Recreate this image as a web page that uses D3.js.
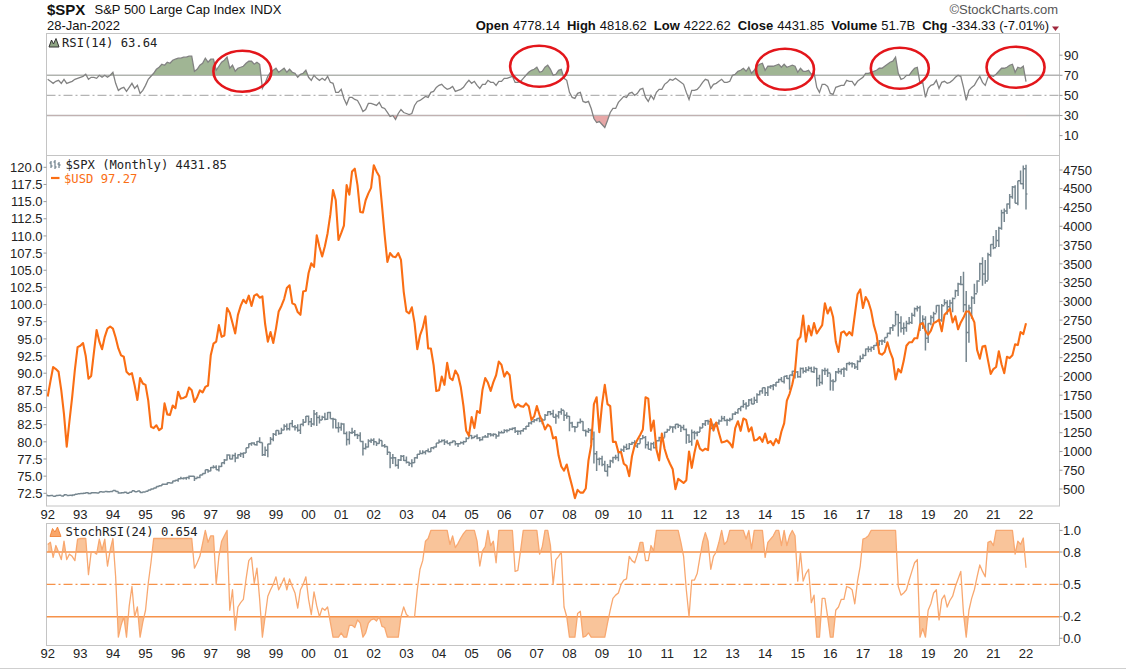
<!DOCTYPE html>
<html><head><meta charset="utf-8">
<script src="https://cdn.jsdelivr.net/npm/d3@7"></script>
<style>
body{margin:0;background:#fff}
svg{display:block}
text{font-family:"Liberation Sans",Arial,sans-serif;fill:#111}
.mono{font-family:"DejaVu Sans Mono",monospace;font-size:12.2px}
</style>
</head><body>
<svg id="c" width="1126" height="672"></svg>
<script>
// ---------------- DATA ----------------
const yearLabels = ["92","93","94","95","96","97","98","99","00","01","02","03","04","05","06","07","08","09","10","11","12","13","14","15","16","17","18","19","20","21","22"];
const spxPrevClose = 417.09; // Dec-1991 close, open of the first bar
const spxClose = [
408.79,412.70,403.69,414.95,415.35,408.14,424.21,414.03,417.80,418.68,431.35,435.71,
438.78,443.38,451.67,440.19,450.19,450.53,448.13,463.56,458.93,467.83,461.79,466.45,
481.61,467.14,445.77,450.91,456.50,444.27,458.26,475.49,462.69,472.35,453.69,459.27,
470.42,487.39,500.71,514.71,533.40,544.75,562.06,561.88,584.41,581.50,605.37,615.93,
636.02,640.43,645.50,654.17,669.12,670.63,639.95,651.99,687.31,705.27,757.02,740.74,
786.16,790.82,757.12,801.34,848.28,885.14,954.29,899.47,947.28,914.62,955.40,970.43,
980.28,1049.34,1101.75,1111.75,1090.82,1133.84,1120.67,957.28,1017.01,1098.67,1163.63,1229.23,
1279.64,1238.33,1286.37,1335.18,1301.84,1372.71,1328.72,1320.41,1282.71,1362.93,1388.91,1469.25,
1394.46,1366.42,1498.58,1452.43,1420.60,1454.60,1430.83,1517.68,1436.51,1429.40,1314.95,1320.28,
1366.01,1239.94,1160.33,1249.46,1255.82,1224.42,1211.23,1133.58,1040.94,1059.78,1139.45,1148.08,
1130.20,1106.73,1147.39,1076.92,1067.14,989.82,911.62,916.07,815.28,885.76,936.31,879.82,
855.70,841.15,848.18,916.92,963.59,974.50,990.31,1008.01,995.97,1050.71,1058.20,1111.92,
1131.13,1144.94,1126.21,1107.30,1120.68,1140.84,1101.72,1104.24,1114.58,1130.20,1173.82,1211.92,
1181.27,1203.60,1180.59,1156.85,1191.50,1191.33,1234.18,1220.33,1228.81,1207.01,1249.48,1248.29,
1280.08,1280.66,1294.87,1310.61,1270.09,1270.20,1276.66,1303.82,1335.85,1377.94,1400.63,1418.30,
1438.24,1406.82,1420.86,1482.37,1530.62,1503.35,1455.27,1473.99,1526.75,1549.38,1481.14,1468.36,
1378.55,1330.63,1322.70,1385.59,1400.38,1280.00,1267.38,1282.83,1166.36,968.75,896.24,903.25,
825.88,735.09,797.87,872.81,919.14,919.32,987.48,1020.62,1057.08,1036.19,1095.63,1115.10,
1073.87,1104.49,1169.43,1186.69,1089.41,1030.71,1101.60,1049.33,1141.20,1183.26,1180.55,1257.64,
1286.12,1327.22,1325.83,1363.61,1345.20,1320.64,1292.28,1218.89,1131.42,1253.30,1246.96,1257.60,
1312.41,1365.68,1408.47,1397.91,1310.33,1362.16,1379.32,1406.58,1440.67,1412.16,1416.18,1426.19,
1498.11,1514.68,1569.19,1597.57,1630.74,1606.28,1685.73,1632.97,1681.55,1756.54,1805.81,1848.36,
1782.59,1859.45,1872.34,1883.95,1923.57,1960.23,1930.67,2003.37,1972.29,2018.05,2067.56,2058.90,
1994.99,2104.50,2067.89,2085.51,2107.39,2063.11,2103.84,1972.18,1920.03,2079.36,2080.41,2043.94,
1940.24,1932.23,2059.74,2065.30,2096.95,2098.86,2173.60,2170.95,2168.27,2126.15,2198.81,2238.83,
2278.87,2363.64,2362.72,2384.20,2411.80,2423.41,2470.30,2471.65,2519.36,2575.26,2647.58,2673.61,
2823.81,2713.83,2640.87,2648.05,2705.27,2718.37,2816.29,2901.52,2913.98,2711.74,2760.17,2506.85,
2704.10,2784.49,2834.40,2945.83,2752.06,2941.76,2980.38,2926.46,2976.74,3037.56,3140.98,3230.78,
3225.52,2954.22,2584.59,2912.43,3044.31,3100.29,3271.12,3500.31,3363.00,3269.96,3621.63,3756.07,
3714.24,3811.15,3972.89,4181.17,4204.11,4297.50,4395.26,4522.68,4307.54,4605.38,4567.00,4766.18,
4431.85];
const spxHigh = [
420.8,413.9,413.3,416.3,420.3,416.2,425.1,425.1,422.4,419.0,432.2,441.3,
442.5,449.6,456.3,452.0,455.6,453.9,451.8,464.4,463.6,470.9,468.6,471.0,
482.9,482.0,468.0,453.2,458.1,462.1,459.3,477.0,476.0,473.8,474.6,466.3,
471.4,488.6,505.4,515.2,535.0,551.1,563.8,565.0,586.0,587.3,608.6,622.9,
638.5,664.2,656.9,659.2,678.4,673.3,672.7,667.0,690.9,708.6,758.0,762.1,
794.7,817.7,816.3,812.9,851.9,898.7,961.6,960.3,960.5,983.1,964.6,986.3,
988.0,1050.0,1106.0,1124.0,1121.9,1138.5,1190.6,1121.0,1066.1,1103.8,1192.9,1244.9,
1283.2,1282.3,1316.5,1362.8,1373.2,1376.5,1420.3,1352.7,1361.6,1367.1,1431.7,1473.0,
1478.0,1444.6,1552.9,1527.2,1481.5,1474.6,1517.3,1525.2,1530.1,1448.7,1432.2,1389.1,
1383.4,1376.4,1267.4,1269.3,1315.9,1286.6,1236.8,1255.8,1143.6,1110.6,1163.4,1173.6,
1176.6,1130.2,1173.0,1147.8,1099.3,1070.4,993.6,965.0,925.0,901.1,954.3,954.3,
934.0,864.6,895.9,924.2,965.4,1015.3,1015.4,1011.0,1040.0,1054.0,1063.7,1112.6,
1158.0,1158.9,1163.2,1150.6,1127.7,1146.3,1140.8,1109.7,1131.5,1142.1,1188.5,1217.3,
1217.9,1212.2,1229.1,1191.9,1199.6,1219.6,1245.2,1245.9,1243.1,1233.3,1270.6,1275.8,
1294.9,1297.6,1310.9,1318.2,1326.7,1284.0,1280.4,1306.7,1340.3,1389.5,1407.9,1431.8,
1441.6,1461.6,1438.9,1498.0,1535.6,1540.6,1555.9,1503.9,1538.7,1576.1,1545.8,1523.6,
1471.8,1396.0,1341.0,1397.0,1440.2,1404.1,1292.2,1313.2,1303.0,1264.8,1007.5,918.9,
943.9,877.9,833.0,888.7,930.2,956.2,996.7,1039.5,1080.2,1101.4,1113.7,1130.4,
1150.5,1112.4,1180.7,1219.8,1207.0,1131.2,1120.0,1129.2,1150.3,1196.1,1227.1,1262.6,
1302.7,1344.1,1332.3,1364.6,1370.6,1345.2,1356.5,1307.4,1229.3,1292.7,1277.6,1269.4,
1333.5,1378.0,1419.2,1422.4,1415.3,1363.5,1392.2,1426.7,1474.5,1471.0,1434.3,1448.0,
1509.9,1530.9,1570.3,1597.6,1687.2,1654.2,1698.8,1709.7,1729.9,1775.2,1813.6,1849.4,
1850.8,1867.9,1884.0,1897.3,1924.0,1968.2,1991.4,2005.0,2019.3,2018.2,2075.8,2093.6,
2072.4,2119.6,2117.5,2125.9,2134.7,2129.9,2132.8,2112.7,2021.0,2094.3,2116.5,2104.3,
2038.2,1963.0,2072.2,2111.1,2103.5,2120.6,2177.1,2193.8,2187.9,2169.6,2214.1,2277.5,
2301.0,2371.5,2401.0,2398.2,2418.7,2453.8,2484.0,2490.9,2519.4,2583.0,2657.7,2695.0,
2872.9,2836.0,2801.9,2717.5,2742.2,2791.5,2848.0,2916.5,2940.9,2939.9,2815.2,2800.2,
2709.0,2813.5,2860.3,2949.5,2954.1,2964.2,3028.0,3013.6,3022.0,3050.1,3154.3,3247.9,
3337.8,3393.5,3136.7,2954.9,3068.7,3233.1,3280.0,3514.8,3588.1,3549.9,3646.0,3760.2,
3870.9,3950.4,3994.4,4218.8,4238.0,4302.4,4430.0,4537.4,4545.9,4608.1,4743.8,4808.9,
4818.62];
const spxLow = [
404.0,404.7,400.0,401.5,408.1,403.5,405.3,413.0,409.6,402.7,415.7,425.9,
429.0,429.5,441.5,431.5,435.7,438.5,441.4,446.7,454.4,456.5,454.4,459.8,
465.4,463.0,436.2,435.9,440.4,442.3,443.4,456.3,459.2,460.0,449.1,450.5,
457.1,468.9,482.2,497.2,511.3,530.5,540.5,555.4,556.2,573.2,575.8,598.3,
597.3,633.7,627.6,624.1,630.1,658.7,605.9,639.6,643.0,684.3,703.8,716.0,
737.0,773.4,756.1,733.5,793.2,829.8,879.9,897.7,893.7,855.3,901.4,924.9,
912.8,979.3,1048.0,1076.7,1085.5,1074.9,1114.3,939.0,939.9,923.3,1093.0,1136.9,
1205.5,1223.1,1234.2,1282.3,1281.0,1278.3,1321.1,1281.0,1264.1,1233.7,1336.1,1387.4,
1350.1,1325.1,1346.6,1339.4,1373.9,1420.1,1416.9,1421.4,1436.5,1305.8,1305.0,1254.1,
1274.6,1228.7,1081.2,1091.9,1232.4,1203.0,1165.5,1131.9,944.8,1026.8,1054.3,1114.3,
1081.7,1074.4,1103.5,1063.5,1048.0,953.0,775.7,833.4,800.2,768.6,872.1,871.8,
840.3,806.3,788.9,847.9,902.8,963.6,962.1,960.8,990.4,994.2,1031.2,1053.4,
1108.0,1124.4,1087.2,1107.2,1076.3,1113.3,1078.8,1060.7,1101.3,1090.2,1127.6,1173.8,
1163.8,1180.6,1163.7,1137.0,1146.2,1188.3,1183.6,1201.1,1201.1,1168.2,1201.1,1246.6,
1245.7,1253.6,1283.4,1284.0,1245.3,1219.3,1224.5,1261.3,1290.9,1327.1,1360.9,1385.9,
1403.9,1389.4,1364.0,1416.4,1476.7,1484.2,1454.3,1370.6,1439.3,1489.6,1406.1,1435.7,
1270.1,1316.8,1257.0,1324.4,1373.7,1272.0,1200.4,1247.5,1106.4,839.8,741.0,815.7,
804.3,734.5,666.8,783.3,843.5,888.9,869.3,978.5,992.3,1020.2,1029.4,1085.9,
1071.6,1045.0,1105.4,1170.7,1040.8,1028.3,1010.9,1040.8,1041.1,1131.9,1173.0,1186.6,
1257.6,1294.7,1249.1,1294.7,1311.8,1258.1,1282.9,1101.5,1114.2,1074.8,1158.7,1202.4,
1258.9,1312.4,1340.0,1357.4,1292.0,1266.7,1325.4,1354.7,1396.6,1403.3,1343.4,1398.1,
1426.2,1485.0,1501.5,1536.0,1581.3,1560.3,1604.6,1627.5,1633.4,1646.5,1746.2,1768.0,
1737.9,1737.9,1834.4,1814.4,1862.8,1916.0,1930.7,1904.8,1964.0,1820.7,2001.0,1972.6,
1980.9,1980.9,2039.7,2048.4,2067.9,2056.3,2044.0,1867.0,1871.9,1893.7,2019.4,1993.3,
1812.3,1810.1,1937.1,2033.8,2025.9,1991.7,2074.0,2147.6,2119.1,2097.9,2083.8,2187.4,
2233.6,2271.7,2322.3,2329.0,2352.7,2405.7,2407.7,2417.4,2446.6,2520.4,2557.4,2605.5,
2682.4,2532.7,2585.9,2553.8,2594.6,2692.0,2699.0,2796.3,2864.1,2603.5,2631.1,2346.6,
2444.0,2681.8,2722.3,2848.6,2750.5,2728.8,2952.2,2822.1,2891.9,2855.9,3050.7,3070.3,
3214.6,2855.8,2191.9,2447.5,2766.6,2965.7,3115.0,3284.5,3209.5,3233.9,3279.7,3594.5,
3694.1,3725.6,3723.3,3955.5,4056.9,4164.4,4233.1,4367.7,4305.9,4278.9,4560.0,4495.1,
4222.62];
const usd = [
86.6,88.8,90.9,90.6,90.2,87.5,84.0,79.3,83.0,86.5,90.5,93.8,
94.0,94.4,92.5,89.2,89.6,93.0,96.3,94.6,93.5,95.3,96.5,96.8,
96.5,95.2,93.6,92.6,92.4,90.2,89.8,90.0,88.2,86.1,89.3,88.5,
88.3,86.0,82.2,82.0,82.4,81.7,82.0,85.6,84.0,83.9,85.3,84.9,
87.3,86.3,86.4,86.6,87.9,87.5,85.8,86.5,87.5,87.2,88.0,88.2,
92.6,94.3,94.6,97.0,95.3,95.5,99.5,98.8,97.3,95.8,98.5,99.8,
100.7,100.2,101.3,99.8,101.3,101.5,101.0,101.2,97.2,94.6,96.0,94.4,
96.5,99.0,99.8,100.8,102.4,102.8,100.2,100.0,98.9,98.5,101.9,102.0,
104.6,106.0,105.5,110.1,108.4,107.0,108.5,110.4,113.1,116.7,115.2,109.4,
110.4,111.5,117.4,116.0,119.4,119.8,117.4,113.5,113.4,115.2,116.2,117.0,
120.3,119.4,118.7,114.5,110.1,106.2,107.5,107.0,106.9,107.5,106.5,101.9,
99.0,98.7,99.6,97.3,93.5,95.5,96.6,98.3,93.6,93.6,91.2,87.4,
87.5,89.5,88.3,91.5,89.3,89.0,90.4,89.7,88.0,85.2,81.6,80.9,
83.6,82.0,84.5,84.2,87.6,89.3,88.6,87.4,88.7,89.7,91.7,91.2,
89.5,90.2,89.7,86.2,85.0,85.5,85.2,85.1,85.6,85.2,83.2,83.7,
85.2,83.9,83.0,81.8,82.5,82.2,80.5,80.7,78.0,76.4,75.8,76.7,
75.0,73.5,71.8,73.0,72.6,72.6,73.2,77.3,79.5,85.5,86.5,81.4,
85.5,88.3,85.5,85.2,80.0,80.0,78.5,78.5,76.8,76.5,75.0,77.9,
79.5,80.3,81.0,81.8,86.5,86.3,81.6,83.1,78.9,77.3,81.2,79.0,
77.7,76.8,76.0,73.1,74.6,74.3,74.0,74.4,78.6,76.2,78.4,80.2,
79.0,78.7,79.0,78.8,83.3,81.7,82.8,81.3,79.9,80.0,80.2,79.8,
79.2,82.0,83.0,81.6,83.4,83.2,81.5,82.1,80.2,80.3,80.7,80.0,
81.2,79.8,80.1,79.5,80.4,79.8,81.5,82.7,86.0,87.0,88.4,90.3,
94.8,95.3,98.4,94.6,96.9,95.5,97.3,95.8,96.4,97.0,100.2,98.7,
99.6,98.2,94.6,93.1,95.9,96.1,95.5,96.0,95.5,98.5,101.5,102.2,
99.5,101.1,100.4,99.1,97.0,95.6,92.9,92.7,93.1,94.5,93.1,92.1,
89.1,90.6,90.1,91.8,94.0,94.5,94.5,95.1,95.1,97.1,97.3,96.2,
95.6,96.2,97.3,97.5,97.8,96.1,98.5,98.9,99.4,97.4,98.3,96.4,
97.4,98.1,99.0,99.0,98.3,97.4,93.4,92.1,93.9,94.0,91.9,89.9,
90.6,90.9,93.2,91.3,90.0,92.4,92.2,92.6,94.2,94.1,96.0,95.7,
97.27];
const rsi = [
66,64,62,64,65,62,66,62,63,64,66,67,
68,69,71,66,68,68,67,70,68,70,68,70,
73,62,55,57,58,54,58,62,57,60,52,55,
60,66,69,72,76,78,81,80,83,82,85,86,
87,87,88,88,89,89,74,76,80,82,87,83,
86,86,75,79,83,85,88,77,80,74,77,78,
79,82,84,84,81,83,81,57,62,69,73,75,
77,73,75,77,73,76,73,72,68,71,72,75,
68,65,70,67,65,67,65,69,63,62,53,53,
56,47,41,48,48,46,45,40,34,36,42,42,
41,40,43,38,37,33,29,30,26,32,36,33,
32,31,32,40,44,45,47,49,48,53,54,58,
60,61,58,56,57,59,54,55,56,58,62,65,
62,64,60,57,61,61,65,63,63,60,64,64,
67,67,68,69,63,63,64,67,70,73,75,76,
78,73,74,78,80,76,70,71,75,76,67,65,
53,48,47,52,53,44,43,44,37,27,23,24,
21,18,25,33,37,37,43,46,49,48,52,53,
50,52,56,57,48,44,50,46,53,56,56,61,
63,66,65,67,65,63,61,53,46,55,55,56,
59,63,66,65,57,61,62,64,66,63,63,64,
70,71,74,75,77,74,78,72,75,79,81,82,
75,79,79,79,80,81,78,81,78,79,80,79,
73,77,74,74,75,71,73,58,53,61,61,59,
52,51,58,59,60,60,65,64,64,60,64,66,
68,72,72,73,74,75,77,77,79,81,83,84,
88,72,66,67,70,70,74,77,78,62,63,48,
57,60,61,65,57,63,64,62,63,65,68,70,
69,58,45,55,58,60,65,69,63,60,68,70,
69,71,74,77,77,78,80,81,73,78,77,79,
63.64];
const stochRsi = [
.87,.89,.75,.86,.80,.73,.90,.73,.78,.76,.72,.92,
.925,.925,.925,.59,.80,.80,.78,.92,.82,.92,.67,.82,
.925,.57,.01,.12,.20,.01,.30,.48,.20,.29,.01,.15,
.26,.51,.70,.925,.925,.925,.925,.925,.925,.925,.925,.925,
.925,.925,.925,.925,.925,.925,.65,.70,.76,.88,1,.89,
.95,.95,.50,.76,.90,.95,1,.26,.45,.075,.29,.33,
.36,.55,.72,.75,.51,.65,.36,.01,.20,.39,.45,.50,
.57,.45,.50,.56,.45,.55,.48,.42,.28,.45,.50,.57,
.36,.22,.43,.30,.20,.28,.26,.29,.15,.01,.01,.01,
.05,.01,.01,.12,.12,.10,.17,.14,.01,.05,.14,.17,
.18,.16,.20,.11,.10,.01,.01,.01,.01,.01,.20,.29,
.22,.20,.20,.20,.45,.64,.72,.90,.925,1,1,1,
1,1,1,1,.87,.95,.84,.88,.93,.97,1,1,
1,1,.90,.67,.81,.85,1,.86,.90,.70,1,1,
1,1,1,1,.62,.63,.81,1,1,1,1,1,
1,.78,.85,1,1,.86,.50,.73,.76,.80,.29,.20,
.01,.01,.01,.23,.25,.01,.02,.05,.01,.01,.01,.01,
.01,.01,.14,.26,.37,.40,.42,.50,.54,.55,.76,.72,
.70,.78,.89,.89,.72,.72,.86,.81,1,1,1,1,
1,1,1,1,1,.89,.76,.45,.20,.54,.54,.60,
.75,.89,.98,.90,.64,.76,.80,.89,1,.87,.90,1,
1,1,1,1,1,.92,1,.83,1,1,1,1,
.75,.89,.92,.95,1,1,.86,1,.86,.95,1,.95,
.53,.80,.53,.60,.64,.33,.40,.01,.01,.37,.37,.20,
.01,.01,.26,.29,.36,.36,.48,.47,.45,.32,.53,.67,
.92,.93,.95,1,1,1,1,1,1,1,1,1,
1,.48,.40,.42,.45,.54,.62,.70,.73,.01,.09,.01,
.26,.32,.42,.45,.17,.36,.40,.29,.35,.39,.48,.55,
.62,.23,.01,.26,.37,.45,.57,.68,.62,.57,.89,.90,
.86,1,1,1,1,1,1,1,.78,.90,.87,.93,
.654];
const usdTicks = [72.5,75.0,77.5,80.0,82.5,85.0,87.5,90.0,92.5,95.0,97.5,100.0,102.5,105.0,107.5,110.0,112.5,115.0,117.5,120.0];
const spxTicks = [500,750,1000,1250,1500,1750,2000,2250,2500,2750,3000,3250,3500,3750,4000,4250,4500,4750];
const rsiTicks = [10,30,50,70,90];
const stochTicks = [0.0,0.2,0.5,0.8,1.0];
const headerFields = [["Open","4778.14"],["High","4818.62"],["Low","4222.62"],["Close","4431.85"],["Volume","51.7B"],["Chg","-334.33 (-7.01%)"]];
// red annotation ellipses on RSI panel (decimal year, RSI level)
const circleYears = [1997.97, 2007.07, 2014.61, 2018.13, 2021.68];
const circleRsi = [74, 79, 76, 77, 78];

// ---------------- LAYOUT ----------------
const svg = d3.select("#c");
const L = 46.5, R = 1059.5;
const P = {rsi:[33.5,155.5], main:[155.5,506], stoch:[523.5,645.5]};
const x = d3.scaleLinear().domain([0,360]).range([47.7,1026]);
const yR = d3.scaleLinear().domain([70,30]).range([75.3,115.5]);
const yU = d3.scaleLinear().domain([120,72.5]).range([167.3,493.3]);
const yS = d3.scaleLinear().domain([4750,500]).range([170,489]);
const yK = d3.scaleLinear().domain([0.8,0.2]).range([552,616.7]);

const defs = svg.append("defs");
function clip(id,x0,y0,x1,y1){
  defs.append("clipPath").attr("id",id).append("rect").attr("x",x0).attr("y",y0).attr("width",x1-x0).attr("height",y1-y0);
}
clip("cR",L,P.rsi[0],R,P.rsi[1]);
clip("cM",L,P.main[0],R,P.main[1]);
clip("cK",L,P.stoch[0],R,P.stoch[1]);
clip("cRup",L,P.rsi[0],R,yR(70));
clip("cRdn",L,yR(30),R,P.rsi[1]);
clip("cKup",L,P.stoch[0],R,yK(0.8));
clip("cKdn",L,yK(0.2),R,P.stoch[1]);

// ---------------- HEADER ----------------
svg.append("text").attr("x",47).attr("y",15).attr("font-size",15).attr("font-weight","bold").text("$SPX");
svg.append("text").attr("x",94.5).attr("y",14).attr("font-size",13)
  .text("S&P 500 Large Cap Index").append("tspan").attr("dx",5).text("INDX");
svg.append("text").attr("x",47).attr("y",30).attr("font-size",13).text("28-Jan-2022");
svg.append("text").attr("x",1058).attr("y",14).attr("font-size",13).attr("text-anchor","end").style("fill","#555").text("\u00A9StockCharts.com");
const hdr = svg.append("text").attr("x",1049).attr("y",30).attr("font-size",13).attr("text-anchor","end");
headerFields.forEach((f,i)=>{
  hdr.append("tspan").attr("dx",i?7:0).attr("font-weight","bold").text(f[0]);
  hdr.append("tspan").attr("dx",4).text(f[1]);
});
svg.append("path").attr("d","M1052,26.5L1059,26.5L1055.5,31Z").attr("fill","#a0283c");

// ---------------- PANEL FRAMES ----------------
function frame(p){
  svg.append("rect").attr("x",L).attr("y",p[0]).attr("width",R-L).attr("height",p[1]-p[0])
    .attr("fill","#fff").attr("stroke","#c4c4c4").attr("stroke-width",1);
}
frame(P.rsi); frame(P.main); frame(P.stoch);
svg.append("line").attr("x1",0).attr("x2",1126).attr("y1",668.5).attr("y2",668.5).attr("stroke","#cfcfcf");

// ---------------- RSI PANEL ----------------
const gR = svg.append("g").attr("clip-path","url(#cR)");
[70,30].forEach(v=>gR.append("line").attr("x1",L).attr("x2",R).attr("y1",yR(v)).attr("y2",yR(v)).attr("stroke","#b4b4b4").attr("stroke-width",1.4));
gR.append("line").attr("x1",L).attr("x2",R).attr("y1",yR(50)).attr("y2",yR(50)).attr("stroke","#b4b4b4").attr("stroke-width",1.2).attr("stroke-dasharray","9,3,2,3");
const rsiLine = d3.line().x((d,i)=>x(i)).y(d=>yR(d));
gR.append("path").datum(rsi).attr("clip-path","url(#cRup)")
  .attr("d",d3.area().x((d,i)=>x(i)).y0(yR(70)).y1(d=>yR(d))).attr("fill","#a0b594");
gR.append("path").datum(rsi).attr("clip-path","url(#cRdn)")
  .attr("d",d3.area().x((d,i)=>x(i)).y0(yR(30)).y1(d=>yR(d))).attr("fill","#e7a7a7");
gR.append("path").datum(rsi).attr("d",rsiLine).attr("fill","none").attr("stroke","#828282").attr("stroke-width",1.3);
rsiTicks.forEach(v=>{
  svg.append("line").attr("x1",R).attr("x2",R+3).attr("y1",yR(v)).attr("y2",yR(v)).attr("stroke","#999");
  svg.append("text").attr("x",1064).attr("y",yR(v)).attr("dy","0.36em").attr("font-size",13).style("fill","#222").text(v);
});
// legend
svg.append("path").attr("d","M49,47L51.5,40L53.5,44L56,38.5L59,47Z").attr("fill","#8fa584").attr("stroke","#333").attr("stroke-width",1);
svg.append("text").attr("class","mono").attr("x",62).attr("y",47).style("fill","#222").text("RSI(14) 63.64");
// annotations
circleYears.forEach((yr,i)=>{
  svg.append("ellipse").attr("cx",x((yr-1992)*12)).attr("cy",yR(circleRsi[i]))
    .attr("rx",29).attr("ry",20.5).attr("fill","none").attr("stroke","#e3161b").attr("stroke-width",2.6);
});

// ---------------- MAIN PANEL ----------------
const gM = svg.append("g").attr("clip-path","url(#cM)");
const spxOpen = spxClose.map((c,i)=> i===0 ? spxPrevClose : spxClose[i-1]);
const pth = d3.path();
spxClose.forEach((c,i)=>{
  const xi = x(i);
  pth.moveTo(xi, yS(spxHigh[i])); pth.lineTo(xi, yS(spxLow[i]));
  pth.moveTo(xi-1.4, yS(spxOpen[i])); pth.lineTo(xi, yS(spxOpen[i]));
  pth.moveTo(xi, yS(c)); pth.lineTo(xi+1.4, yS(c));
});
gM.append("path").attr("d",pth.toString()).attr("fill","none").attr("stroke","#76868f").attr("stroke-width",1.5);
gM.append("path").datum(usd).attr("d",d3.line().x((d,i)=>x(i)).y(d=>yU(d)))
  .attr("fill","none").attr("stroke","#fa6e14").attr("stroke-width",2.1).attr("stroke-linejoin","round");
usdTicks.forEach(v=>{
  svg.append("line").attr("x1",L-3).attr("x2",L).attr("y1",yU(v)).attr("y2",yU(v)).attr("stroke","#999");
  svg.append("text").attr("x",42.5).attr("y",yU(v)).attr("dy","0.36em").attr("text-anchor","end").attr("font-size",13).style("fill","#222").text(v.toFixed(1));
});
spxTicks.forEach(v=>{
  svg.append("line").attr("x1",R).attr("x2",R+3).attr("y1",yS(v)).attr("y2",yS(v)).attr("stroke","#999");
  svg.append("text").attr("x",1063).attr("y",yS(v)).attr("dy","0.36em").attr("font-size",13).style("fill","#222").text(v);
});
// legend
const ic = svg.append("g").attr("stroke","#7b8b95").attr("stroke-width",1.3).attr("fill","none");
[[51,161,168,163,166],[55,160,169,162,167],[59,162,168,164,165]].forEach(b=>{
  ic.append("path").attr("d",`M${b[0]},${b[1]}V${b[2]}M${b[0]-1.5},${b[3]}H${b[0]}M${b[0]},${b[4]}H${b[0]+1.5}`);
});
svg.append("text").attr("class","mono").attr("x",65.5).attr("y",168.5).style("fill","#222").text("$SPX (Monthly) 4431.85");
svg.append("line").attr("x1",51).attr("x2",59.5).attr("y1",178).attr("y2",178).attr("stroke","#fa6e14").attr("stroke-width",2.2);
svg.append("text").attr("class","mono").attr("x",64).attr("y",183).style("fill","#fa6e14").text("$USD 97.27");

// ---------------- STOCH RSI PANEL ----------------
const gK = svg.append("g").attr("clip-path","url(#cK)");
gK.append("path").datum(stochRsi).attr("clip-path","url(#cKup)")
  .attr("d",d3.area().x((d,i)=>x(i)).y0(yK(0.8)).y1(d=>yK(d))).attr("fill","#f9c49a");
gK.append("path").datum(stochRsi).attr("clip-path","url(#cKdn)")
  .attr("d",d3.area().x((d,i)=>x(i)).y0(yK(0.2)).y1(d=>yK(d))).attr("fill","#f9c49a");
[0.8,0.2].forEach(v=>gK.append("line").attr("x1",L).attr("x2",R).attr("y1",yK(v)).attr("y2",yK(v)).attr("stroke","#f6924a").attr("stroke-width",1.4));
gK.append("line").attr("x1",L).attr("x2",R).attr("y1",yK(0.5)).attr("y2",yK(0.5)).attr("stroke","#f6924a").attr("stroke-width",1.3).attr("stroke-dasharray","9,3,2,3");
gK.append("path").datum(stochRsi).attr("d",d3.line().x((d,i)=>x(i)).y(d=>yK(d)))
  .attr("fill","none").attr("stroke","#f8a870").attr("stroke-width",1.3).attr("stroke-linejoin","round");
stochTicks.forEach(v=>{
  svg.append("line").attr("x1",R).attr("x2",R+3).attr("y1",yK(v)).attr("y2",yK(v)).attr("stroke","#999");
  svg.append("text").attr("x",1063).attr("y",yK(v)).attr("dy","0.36em").attr("font-size",13).style("fill","#222").text(v.toFixed(1));
});
svg.append("path").attr("d","M50,536.5L52.5,528.5L55,532L57.5,527L61,536.5Z").attr("fill","#f9a66a").attr("stroke","#f07a2a").attr("stroke-width",0.8);
svg.append("text").attr("class","mono").attr("x",65.5).attr("y",536).style("fill","#222").text("StochRSI(24) 0.654");

// ---------------- X AXES ----------------
yearLabels.forEach((lab,i)=>{
  const xi = x(i*12);
  svg.append("text").attr("x",xi).attr("y",519).attr("text-anchor","middle").attr("font-size",13).style("fill","#222").text(lab);
  svg.append("text").attr("x",xi).attr("y",657.5).attr("text-anchor","middle").attr("font-size",13).style("fill","#222").text(lab);
});
</script>
</body></html>
